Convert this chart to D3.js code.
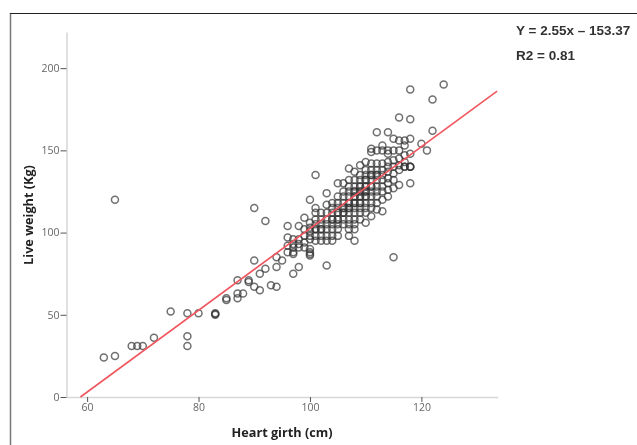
<!DOCTYPE html>
<html>
<head>
<meta charset="utf-8">
<script src="https://cdn.jsdelivr.net/npm/d3@7"></script>
<style>
    html, body { margin: 0; padding: 0; background: #fff; overflow: hidden; }
    svg { display: block; }
    .tick text { font-family: "Open Sans", sans-serif; font-size: 10.5px; fill: #666; }
    .title { font-family: "Open Sans", sans-serif; font-weight: 700; font-size: 12.7px; fill: #222; }
    .note { font-family: "Liberation Sans", sans-serif; font-weight: 700; font-size: 13.5px; fill: #333; }
</style>
</head>
<body>
<div id="chart"></div>
<script>
// heart girth (cm) columns
var girthValues = [63, 65, 68, 69, 70, 72, 75, 78, 80, 83, 85, 87, 88, 89, 90, 91, 92, 93, 94, 95,
    96, 97, 98, 99, 100, 101, 102, 103, 104, 105, 106, 107, 108, 109, 110, 111, 112, 113, 114, 115,
    116, 117, 118, 120, 121, 122, 124];

// live weights (kg) found at each girth above
var weightsAtGirth = [
    [24], [25, 120], [31], [31], [31], [36], [52], [51, 37, 31], [51], [50, 51, 50.5],
    [59, 60], [60, 63, 71], [63], [70, 71], [67, 83, 115], [65, 75], [78, 107], [68], [67, 79, 85], [83],
    [104, 97, 92, 88],
    [96, 93, 91, 88, 87, 75],
    [104, 96, 93, 91, 79],
    [109, 102, 98, 94, 91],
    [120, 106, 103, 101, 98, 96, 90, 88, 87, 86],
    [135, 115, 112, 108, 105, 102, 102, 98, 95],
    [112, 108, 105, 102, 102, 98, 95],
    [124, 117, 112, 108, 105, 102, 98, 95, 80],
    [118, 115, 112, 108, 108, 105, 102, 98, 95],
    [130, 122, 118, 115, 112, 112, 108, 108, 105, 102, 98],
    [130, 125, 122, 118, 115, 115, 112, 112, 108, 105],
    [139, 132, 128, 125, 122, 118, 118, 115, 115, 112, 108, 105, 102, 98],
    [137, 132, 128, 125, 125, 122, 122, 118, 118, 115, 112, 108, 105, 102, 95],
    [141, 135, 132, 128, 128, 125, 125, 122, 122, 118, 118, 115, 112, 108],
    [143, 138, 135, 132, 132, 128, 128, 125, 125, 122, 122, 118, 115, 112, 106],
    [151, 149, 142, 138, 135, 135, 132, 128, 128, 125, 122, 118, 115, 110],
    [161, 150, 142, 138, 135, 135, 132, 128, 125, 122, 118, 114],
    [153, 150, 142, 138, 135, 132, 128, 125, 120, 113],
    [161, 150, 148, 143, 140, 137, 133, 130, 126, 122],
    [157, 150, 144, 140, 136, 132, 127, 85],
    [170, 156, 150, 145, 141, 138, 129],
    [156, 153, 147, 143, 140, 140],
    [187, 169, 157, 148, 140, 140, 140, 130],
    [154], [150], [181, 162], [190]
];

// fit line end points as drawn
var fitGirth = [58.8, 133.6];
var fitWeight = [0, 186];

var xTicks = [60, 80, 100, 120];
var yTicks = [0, 50, 100, 150, 200];

var width = 637, height = 445;

var x = d3.scaleLinear().domain([56.3, 133.7]).range([66.5, 497.7]);
var y = d3.scaleLinear().domain([0, 222]).range([397, 32]);

var svg = d3.select("#chart").append("svg")
    .attr("width", width)
    .attr("height", height);

// slight softness, the source is a scanned figure
var defs = svg.append("defs");
defs.append("filter").attr("id", "soft")
    .append("feGaussianBlur").attr("stdDeviation", 0.4);

// picture frame
svg.append("line").attr("x1", 10.5).attr("x2", 10.5).attr("y1", 13).attr("y2", height)
    .attr("stroke", "#777").attr("stroke-width", 1.5);
svg.append("line").attr("x1", 10).attr("x2", width).attr("y1", 13.5).attr("y2", 13.5)
    .attr("stroke", "#222").attr("stroke-width", 1);

var plot = svg.append("g").attr("filter", "url(#soft)");

// axes
var xAxis = plot.append("g")
    .attr("transform", "translate(0,397)")
    .call(d3.axisBottom(x).tickValues(xTicks).tickSizeInner(5).tickSizeOuter(0).tickPadding(2));
var yAxis = plot.append("g")
    .attr("transform", "translate(66.5,0)")
    .call(d3.axisLeft(y).tickValues(yTicks).tickSizeInner(6).tickSizeOuter(0).tickPadding(1));

[xAxis, yAxis].forEach(function (a) {
    a.select(".domain").attr("stroke", "#d8d8d8").attr("stroke-width", 1.6);
    a.selectAll(".tick line").attr("stroke", "#555");
});

// flatten columns into points
var points = [];
girthValues.forEach(function (g, i) {
    weightsAtGirth[i].forEach(function (w) {
        points.push({girth: g, weight: w});
    });
});

plot.append("g").selectAll("circle")
    .data(points)
    .enter().append("circle")
    .attr("cx", function (d) { return x(d.girth); })
    .attr("cy", function (d) { return y(d.weight); })
    .attr("r", 3.5)
    .attr("fill", "none")
    .attr("stroke", "#333")
    .attr("stroke-opacity", 0.7)
    .attr("stroke-width", 1.5);

// fit line
plot.append("path")
    .datum(d3.zip(fitGirth, fitWeight))
    .attr("d", d3.line()
        .x(function (d) { return x(d[0]); })
        .y(function (d) { return y(d[1]); }))
    .attr("fill", "none")
    .attr("stroke", "#f0565e")
    .attr("stroke-width", 1.6);

// titles
plot.append("text").attr("class", "title")
    .attr("x", 282).attr("y", 437)
    .attr("text-anchor", "middle")
    .text("Heart girth (cm)");
plot.append("text").attr("class", "title")
    .attr("transform", "translate(33,215) rotate(-90)")
    .attr("text-anchor", "middle")
    .text("Live weight (Kg)");

plot.append("text").attr("class", "note")
    .attr("x", 516).attr("y", 35)
    .text("Y = 2.55x \u2013 153.37");
plot.append("text").attr("class", "note")
    .attr("x", 516).attr("y", 60)
    .text("R2 = 0.81");
</script>
</body>
</html>
